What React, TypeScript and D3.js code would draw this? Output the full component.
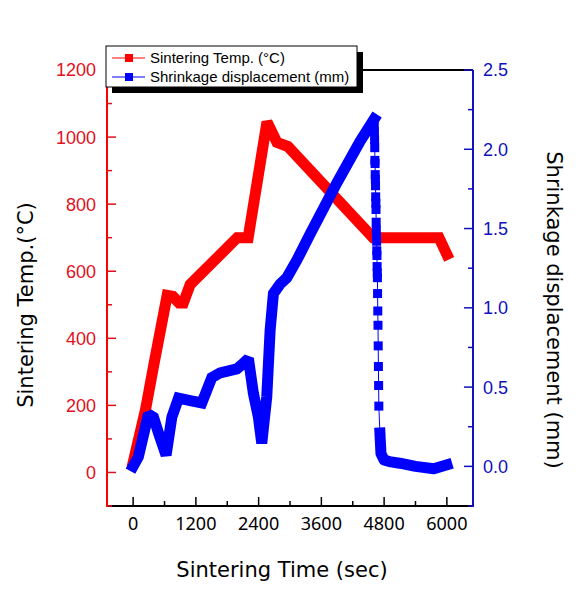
import React from "react";
import * as d3 from "d3";

// Sintering temperature (°C) vs time (sec)
const tempTime = [0, 240, 400, 650, 760, 880, 960, 1090, 1990, 2200, 2560, 2750, 2960, 4590, 5850, 6000];
const tempValue = [30, 190, 325, 528, 525, 505, 505, 560, 700, 700, 1045, 984, 972, 700, 700, 650];

// Shrinkage displacement (mm) — rising part
const riseTime = [0, 100, 293, 390, 485, 630, 740, 868, 1090, 1313, 1505, 1664, 1983, 2110, 2205, 2300, 2396, 2460, 2556, 2620, 2683, 2811, 2939, 3130, 3385, 3900, 4340, 4610];
const riseValue = [0.0, 0.06, 0.33, 0.31, 0.21, 0.07, 0.31, 0.43, 0.415, 0.4, 0.56, 0.59, 0.615, 0.65, 0.68, 0.46, 0.31, 0.145, 0.44, 0.86, 1.09, 1.15, 1.19, 1.3, 1.465, 1.79, 2.05, 2.19];

// sharp drop (sparse samples)
const dropTime = [4612, 4615, 4618, 4621, 4624, 4627, 4630, 4633, 4636, 4639, 4642, 4645, 4648, 4651, 4654, 4657, 4660, 4663, 4666, 4669, 4672, 4675, 4679, 4683, 4687, 4691, 4695, 4699];
const dropValue = [2.16, 2.11, 2.06, 2.01, 1.93, 1.91, 1.84, 1.81, 1.77, 1.7, 1.66, 1.62, 1.54, 1.49, 1.45, 1.42, 1.36, 1.33, 1.26, 1.22, 1.19, 1.09, 0.98, 0.89, 0.76, 0.63, 0.51, 0.38];

// tail
const tailTime = [4720, 4740, 4800, 4900, 5100, 5400, 5750, 6000];
const tailValue = [0.21, 0.08, 0.04, 0.03, 0.02, 0.0, -0.015, 0.01];

const xTicks = [0, 1200, 2400, 3600, 4800, 6000];
const xMinor = [600, 1800, 3000, 4200, 5400];
const leftTicks = [0, 200, 400, 600, 800, 1000, 1200];
const leftMinor = [-100, 100, 300, 500, 700, 900, 1100];
const rightTicks = [0, 0.5, 1.0, 1.5, 2.0, 2.5];
const rightMinor = [-0.25, 0.25, 0.75, 1.25, 1.75, 2.25];

const legendLabels = ["Sintering Temp. (°C)", "Shrinkage displacement (mm)"];

const RED = "#ff0000";
const BLUE = "#0000ff";
const RED_TXT = "#e3101e";
const BLUE_AX = "#1010c0";
const ARIAL = "'Liberation Sans', Arial, sans-serif";
const SANS = "'Noto Sans', 'Open Sans', sans-serif";
const TITLE = "'DejaVu Sans', 'Noto Sans', sans-serif";

export default function App() {
  const L = 107, R = 473, T = 70, B = 506;
  const x = d3.scaleLinear().domain([-500, 6500]).range([L, R]);
  const yL = d3.scaleLinear().domain([-100, 1200]).range([B, T]);
  const yR = d3.scaleLinear().domain([-0.25, 2.5]).range([B, T]);

  const temp = tempTime.map((t, i) => [t, tempValue[i]] as [number, number]);
  const rise = riseTime.map((t, i) => [t, riseValue[i]] as [number, number]);
  const drop = dropTime.map((t, i) => [t, dropValue[i]] as [number, number]);
  const tail = tailTime.map((t, i) => [t, tailValue[i]] as [number, number]);

  const lineL = d3.line<[number, number]>().x(d => x(d[0])).y(d => yL(d[1]));
  const lineR = d3.line<[number, number]>().x(d => x(d[0])).y(d => yR(d[1]));

  const dropPath = [rise[rise.length - 1], ...drop, tail[0]];
  const W = 11;

  return (
    <svg width={581} height={610} style={{ position: "absolute", left: 0, top: 0, background: "#fff" }}>
      <rect x={0} y={0} width={581} height={610} fill="#fff" />
      {/* temperature series */}
      <path d={lineL(temp) || ""} fill="none" stroke={RED} strokeWidth={W} strokeLinejoin="miter" strokeMiterlimit={1.6} strokeLinecap="square" />
      {/* displacement series */}
      <path d={lineR(dropPath) || ""} fill="none" stroke={BLUE} strokeWidth={1} />
      {drop.map((d, i) => (
        <rect key={"dm" + i} x={x(d[0]) - 4.5} y={yR(d[1]) - 4.5} width={9} height={9} fill={BLUE} />
      ))}
      <path d={lineR(rise) || ""} fill="none" stroke={BLUE} strokeWidth={W} strokeLinejoin="miter" strokeMiterlimit={1.6} strokeLinecap="square" />
      <path d={lineR(tail) || ""} fill="none" stroke={BLUE} strokeWidth={W} strokeLinejoin="round" strokeLinecap="square" />

      {/* top axis */}
      <line x1={L} x2={R} y1={T} y2={T} stroke="#000" strokeWidth={2} />
      {/* bottom axis */}
      <line x1={L} x2={R} y1={B} y2={B} stroke="#000" strokeWidth={2} />
      {xTicks.map(t => (
        <g key={"xt" + t}>
          <line x1={x(t)} x2={x(t)} y1={B} y2={B - 9} stroke="#000" strokeWidth={1.5} />
          <text x={x(t)} y={530} textAnchor="middle" fontFamily={SANS} fontSize={18} fill="#000">{t}</text>
        </g>
      ))}
      {xMinor.map(t => (
        <line key={"xm" + t} x1={x(t)} x2={x(t)} y1={B} y2={B - 5} stroke="#000" strokeWidth={1.5} />
      ))}
      {/* left axis */}
      <line x1={L} x2={L} y1={T} y2={B + 1} stroke={RED} strokeWidth={2} />
      {leftTicks.map(v => (
        <g key={"lt" + v}>
          <line x1={L} x2={L + 9} y1={yL(v)} y2={yL(v)} stroke={RED_TXT} strokeWidth={1.5} />
          <text x={96} y={yL(v)} dy="0.36em" textAnchor="end" fontFamily={ARIAL} fontSize={18} fill={RED_TXT}>{v}</text>
        </g>
      ))}
      {leftMinor.map(v => (
        <line key={"lm" + v} x1={L} x2={L + 5} y1={yL(v)} y2={yL(v)} stroke={RED_TXT} strokeWidth={1.5} />
      ))}
      {/* right axis */}
      <line x1={R} x2={R} y1={T} y2={B + 1} stroke={BLUE_AX} strokeWidth={2} />
      {rightTicks.map(v => (
        <g key={"rt" + v}>
          <line x1={R} x2={R - 9} y1={yR(v)} y2={yR(v)} stroke={BLUE_AX} strokeWidth={1.5} />
          <text x={483} y={yR(v)} dy="0.36em" textAnchor="start" fontFamily={ARIAL} fontSize={18} fill={BLUE_AX}>{v.toFixed(1)}</text>
        </g>
      ))}
      {rightMinor.map(v => (
        <line key={"rm2" + v} x1={R} x2={R - 5} y1={yR(v)} y2={yR(v)} stroke={BLUE_AX} strokeWidth={1.5} />
      ))}

      {/* axis titles */}
      <text x={282} y={577} textAnchor="middle" fontFamily={TITLE} fontSize={21} fill="#000">Sintering Time (sec)</text>
      <text transform={`translate(33,305) rotate(-90)`} textAnchor="middle" fontFamily={TITLE} fontSize={21} fill="#000">Sintering Temp.(°C)</text>
      <text transform={`translate(547,310) rotate(90)`} textAnchor="middle" fontFamily={TITLE} fontSize={21} fill="#000">Shrinkage displacement (mm)</text>

      {/* legend */}
      <rect x={112} y={52} width={251} height={41} fill="#000" />
      <rect x={106} y={46} width={251} height={41} fill="#fff" stroke="#000" strokeWidth={1} />
      {legendLabels.map((lab, i) => {
        const cy = i === 0 ? 58 : 77;
        const c = i === 0 ? RED : BLUE;
        return (
          <g key={"lg" + i}>
            <line x1={112} x2={145} y1={cy} y2={cy} stroke={c} strokeWidth={1} />
            <rect x={125} y={cy - 4} width={8} height={8} fill={c} />
            <text x={150} y={cy} dy="0.36em" fontFamily={ARIAL} fontSize={15} fill="#000">{lab}</text>
          </g>
        );
      })}
    </svg>
  );
}
